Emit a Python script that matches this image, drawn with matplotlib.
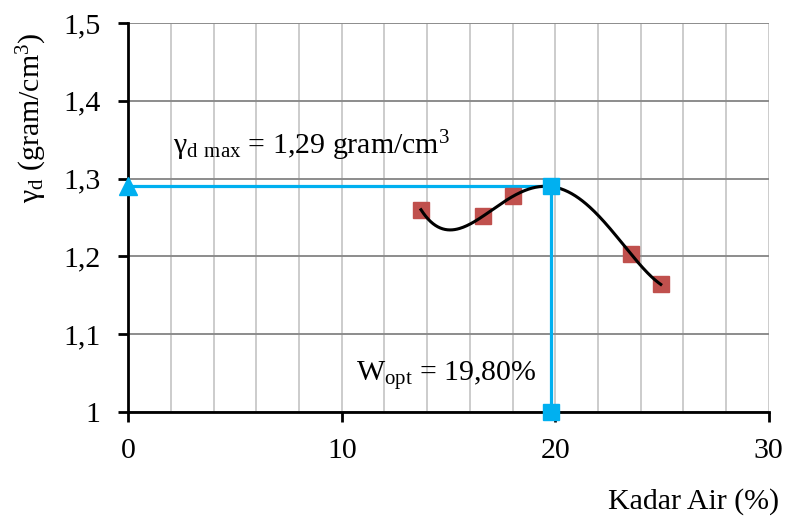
import numpy as np
import matplotlib.pyplot as plt
from matplotlib.ticker import MultipleLocator, FuncFormatter

plt.rcParams['font.family'] = 'Liberation Serif'
plt.rcParams['mathtext.fontset'] = 'custom'
plt.rcParams['mathtext.rm'] = 'Liberation Serif'
plt.rcParams['mathtext.default'] = 'regular'

# kadar air (%) vs berat isi kering (gram/cm3)
kadar_air = [13.71, 16.63, 18.0, 23.53, 24.94]
gamma_d = [1.260, 1.252, 1.277, 1.2035, 1.164]

w_opt = 19.80
gamma_max = 1.29

fig = plt.figure(figsize=(7.89, 5.16), dpi=100)
ax = fig.add_axes([0.1626, 0.2016, 0.8118, 0.7538])

# polynomial trendline (order 4) like the spreadsheet
coef = np.polyfit(kadar_air, gamma_d, 4)
xs = np.linspace(min(kadar_air), max(kadar_air), 200)
ax.plot(xs, np.polyval(coef, xs), color='black', lw=2.2, zorder=4)

blue = '#00B0F0'
ax.plot([0, w_opt], [gamma_max, gamma_max], color=blue, lw=2.3, zorder=3)
ax.plot([w_opt, w_opt], [gamma_max, 1.0], color=blue, lw=2.3, zorder=3)
ax.plot([0], [gamma_max], marker='^', color=blue, ms=13, ls='none', zorder=5, clip_on=False)
ax.plot([w_opt, w_opt], [gamma_max, 1.0], marker='s', color=blue, ms=12, ls='none', zorder=5, clip_on=False)

ax.plot(kadar_air, gamma_d, marker='s', color='#C0504D', ms=12, ls='none', zorder=3)

ax.set_xlim(0, 30)
ax.set_ylim(1.0, 1.5)
ax.xaxis.set_major_locator(MultipleLocator(10))
ax.xaxis.set_minor_locator(MultipleLocator(2))
ax.yaxis.set_major_locator(MultipleLocator(0.1))
ax.yaxis.set_major_formatter(FuncFormatter(lambda v, p: ('%g' % round(v, 2)).replace('.', ',')))

ax.grid(which='minor', axis='x', color='#C8C8C8', lw=1.3)
ax.grid(which='major', axis='x', color='#C8C8C8', lw=1.3)
ax.grid(which='major', axis='y', color='#8C8C8C', lw=1.4)
ax.set_axisbelow(True)

for s in ['top', 'right']:
    ax.spines[s].set_visible(False)
for s in ['left', 'bottom']:
    ax.spines[s].set_linewidth(2)
    ax.spines[s].set_zorder(2)

ax.tick_params(axis='both', which='major', direction='out', length=7, width=2, labelsize=21.5)
ax.tick_params(axis='y', pad=13)
ax.tick_params(axis='x', pad=12)
ax.tick_params(axis='x', which='minor', length=0)

ax.text(2.1, 1.331, r'γ$_{\mathrm{d\ max}}$ = 1,29 gram/cm$^3$', fontsize=21.5, va='baseline', ha='left')
ax.text(10.65, 1.040, r'W$_{\mathrm{opt}}$ = 19,80%', fontsize=21.5, va='baseline', ha='left')

fig.text(0.04, 0.772, r'γ$_{\mathrm{d}}$ (gram/cm$^3$)', rotation=90, fontsize=21.5, va='center', ha='center')
fig.text(0.988, 0.0136, 'Kadar Air (%)', fontsize=21.5, ha='right', va='baseline')

fig.savefig('out.png', dpi=100)
